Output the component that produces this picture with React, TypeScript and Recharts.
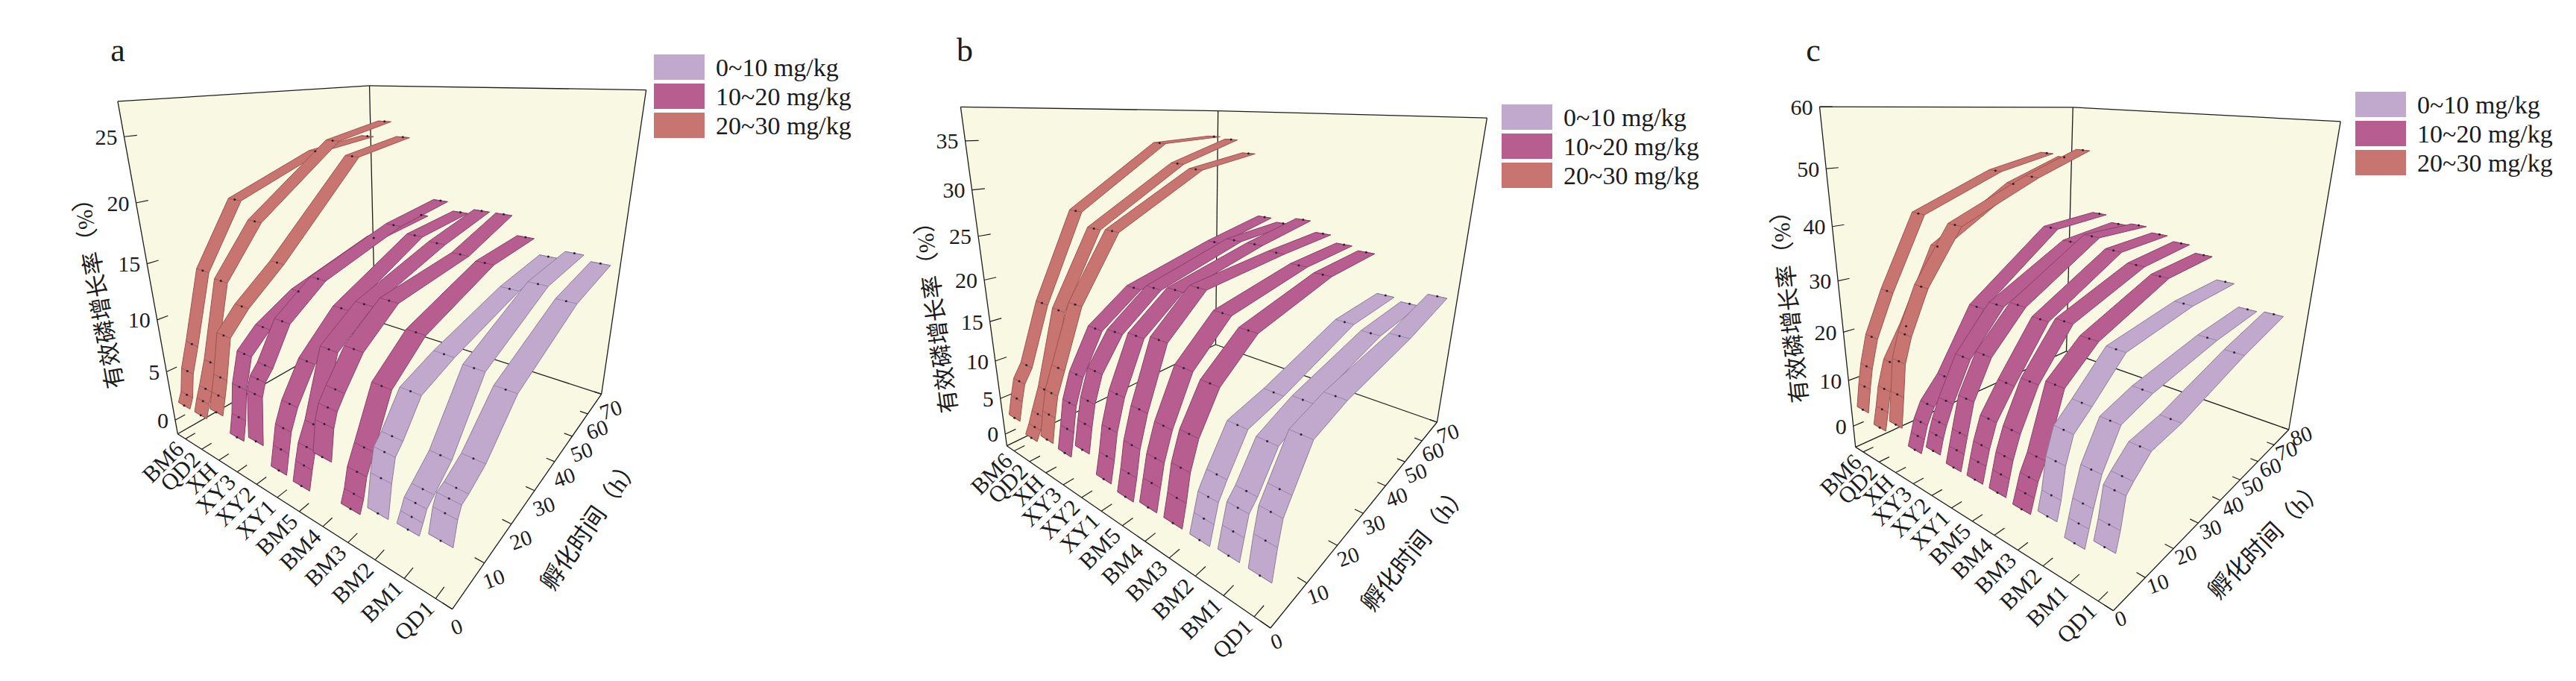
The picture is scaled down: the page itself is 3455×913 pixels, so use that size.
import React from "react";
import * as R from "recharts";

const RC: any = R;
const { ComposedChart, XAxis, YAxis, Scatter, Polygon } = RC;

// incubation times (h)
const TIMES = [1, 2, 3, 5, 10, 20, 45, 65];

// soils along the depth axis, BM6 at the back
const SAMPLES = ["BM6", "QD2", "XH", "XY3", "XY2", "XY1", "BM5", "BM4", "BM3", "BM2", "BM1", "QD1"];

// 0 = 0~10, 1 = 10~20, 2 = 20~30 mg/kg
const SAMPLE_CLASS = [2, 2, 2, 1, 1, 1, 1, 1, 1, 0, 0, 0];
const CLASS_LABELS = ["0~10 mg/kg", "10~20 mg/kg", "20~30 mg/kg"];

// growth rate of available P (%), one row per soil, one column per time
const GROWTH_A = [
  [1.8, 2.7, 4.9, 7.2, 13.4, 18.8, 21.7, 22.3],
  [1.8, 3.0, 4.0, 6.2, 13.0, 17.2, 22.9, 24.0],
  [3.1, 4.5, 6.0, 9.5, 11.3, 13.9, 21.6, 22.5],
  [1.7, 3.4, 6.0, 8.6, 10.1, 11.8, 13.9, 14.4],
  [2.4, 6.5, 7.6, 8.4, 11.3, 13.5, 15.6, 16.3],
  [0.8, 2.5, 4.2, 5.9, 8.6, 11.5, 15.0, 15.4],
  [0.6, 2.2, 3.6, 5.1, 10.4, 12.5, 14.7, 15.9],
  [4.4, 6.9, 8.0, 9.0, 11.2, 13.4, 14.1, 15.9],
  [1.2, 2.2, 3.8, 5.3, 9.1, 11.5, 13.8, 14.0],
  [2.2, 4.8, 6.6, 7.3, 9.6, 10.5, 12.0, 12.5],
  [2.3, 3.0, 3.8, 4.3, 5.6, 10.2, 13.0, 13.3],
  [2.9, 4.7, 5.5, 5.7, 6.5, 9.4, 12.1, 12.8],
];
const GROWTH_B = [
  [2.7, 5.1, 7.2, 8.9, 16.1, 26.5, 34.0, 34.6],
  [1.3, 2.5, 4.0, 6.8, 16.0, 24.8, 31.5, 34.3],
  [2.5, 5.5, 8.0, 10.7, 17.5, 25.0, 31.0, 32.5],
  [2.2, 5.0, 8.0, 11.0, 15.5, 18.8, 21.7, 23.5],
  [4.1, 7.0, 9.5, 12.5, 16.0, 19.5, 22.5, 23.0],
  [2.0, 4.5, 7.5, 11.0, 16.5, 20.0, 22.5, 24.0],
  [1.5, 4.0, 7.0, 10.5, 17.0, 21.0, 22.0, 22.5],
  [2.0, 4.5, 7.0, 10.0, 15.0, 19.0, 21.0, 21.5],
  [2.0, 4.5, 7.5, 10.5, 14.5, 18.0, 20.5, 21.0],
  [2.0, 4.0, 6.0, 7.7, 11.4, 12.3, 15.4, 15.7],
  [2.3, 4.5, 6.6, 7.6, 11.1, 12.7, 14.9, 15.3],
  [2.3, 5.5, 8.0, 9.5, 13.2, 14.3, 15.5, 17.1],
];
const GROWTH_C = [
  [4.3, 9.0, 13.0, 18.6, 26.8, 40.6, 47.2, 50.0],
  [2.4, 6.0, 10.0, 15.0, 21.0, 35.0, 45.0, 49.5],
  [5.1, 11.0, 17.3, 22.0, 30.0, 40.0, 47.0, 51.5],
  [2.0, 4.5, 7.0, 10.0, 14.0, 25.4, 37.3, 38.1],
  [4.0, 6.8, 9.0, 12.5, 19.5, 27.1, 35.3, 36.6],
  [3.0, 6.0, 9.0, 14.8, 21.5, 28.3, 37.3, 37.1],
  [3.0, 6.0, 8.8, 13.0, 18.0, 27.0, 35.4, 36.0],
  [3.0, 6.0, 9.0, 13.0, 20.0, 28.0, 33.6, 35.0],
  [2.5, 5.0, 7.5, 10.4, 21.2, 26.4, 32.5, 33.5],
  [3.9, 7.2, 12.7, 17.2, 20.0, 26.1, 28.5, 29.0],
  [1.9, 4.9, 7.9, 12.8, 19.0, 20.9, 23.4, 24.5],
  [4.2, 7.5, 12.7, 14.1, 16.9, 17.8, 22.1, 24.8],
];

const TICKS_A = [0, 5, 10, 15, 20, 25];
const TICKS_B = [0, 5, 10, 15, 20, 25, 30, 35];
const TICKS_C = [0, 10, 20, 30, 40, 50, 60];
const TIME_TICKS_AB = [0, 10, 20, 30, 40, 50, 60, 70];
const TIME_TICKS_C = [0, 10, 20, 30, 40, 50, 60, 70, 80];

const W = 3455;
const H = 913;
const FILL = ["#C0A9CC", "#B75D90", "#C87571"];
const EDGE = ["#8F7C9E", "#8C3F6C", "#9E5351"];
const WALL = "#F9F8E3";
const INK = "#1c1c1c";
const SERIF = "'Liberation Serif', 'Times New Roman', serif";
const CJK = "'Liberation Serif', 'Noto Sans CJK SC', sans-serif";
const HALF_WIDTH = 0.36 / SAMPLES.length;

type P2 = [number, number];

// screen corners of each box: floor L(back soil, t0) F(front soil, t0) R(front soil, tmax) B(back soil, tmax), tops above L, B, R
const BOXES = [
  {
    L: [238.3, 581.7], F: [606.7, 816.7], R: [806.7, 528.3], B: [503, 430],
    TL: [156, 135], TB: [498, 113], TR: [865, 124],
    vmin: -1.5, vmax: 27.5, tmax: 70, timeLabelShift: [-1, 26],
    yTitle: [131, 386], tTitle: [792, 702], legend: [877, 73], label: [158, 82],
  },
  {
    L: [1350.4, 597.7], F: [1704, 842], R: [1927.4, 566], B: [1630.5, 462],
    TL: [1291.5, 151], TB: [1630.5, 137.4], TR: [1996, 166.7],
    vmin: -1.7, vmax: 38.3, tmax: 70, timeLabelShift: [1, 20],
    yTitle: [1255, 418], tTitle: [1898, 734], legend: [2014, 140], label: [1294, 82],
  },
  {
    L: [2488.7, 599.4], F: [2834.4, 818.7], R: [3069.8, 576], B: [2771.5, 470.8],
    TL: [2446.6, 153.2], TB: [2773.7, 129.8], TR: [3142.4, 172.5],
    vmin: -4.8, vmax: 60, tmax: 80, timeLabelShift: [3, 13],
    yTitle: [2400, 404], tTitle: [3040, 723], legend: [3159, 123], label: [2432, 82],
  },
];

function solve3(m: number[][], r: number[]) {
  const det = (a: number[][]) =>
    a[0][0] * (a[1][1] * a[2][2] - a[1][2] * a[2][1]) -
    a[0][1] * (a[1][0] * a[2][2] - a[1][2] * a[2][0]) +
    a[0][2] * (a[1][0] * a[2][1] - a[1][1] * a[2][0]);
  const d = det(m);
  return [0, 1, 2].map((c) => det(m.map((row, i) => row.map((v, j) => (j === c ? r[i] : v)))) / d);
}

// perspective projection of (soil, time, value), all in 0..1, to the page
function makeProjector(b: any) {
  const [x0, y0] = b.L, [x1, y1] = b.F, [x2, y2] = b.R, [x3, y3] = b.B;
  const dx1 = x1 - x2, dx2 = x3 - x2, dx3 = x0 - x1 + x2 - x3;
  const dy1 = y1 - y2, dy2 = y3 - y2, dy3 = y0 - y1 + y2 - y3;
  const den = dx1 * dy2 - dx2 * dy1;
  const g = (dx3 * dy2 - dx2 * dy3) / den;
  const h = (dx1 * dy3 - dx3 * dy1) / den;
  const a = x1 - x0 + g * x1, bb = x3 - x0 + h * x3, c = x0;
  const d = y1 - y0 + g * y1, e = y3 - y0 + h * y3, f = y0;
  const floor = (s: number, t: number) => [a * s + bb * t + c, d * s + e * t + f, g * s + h * t + 1];

  const M = [[0, 0, 0], [0, 0, 0], [0, 0, 0]];
  const rhs = [0, 0, 0];
  const tops: [number, number, P2][] = [[0, 0, b.TL], [0, 1, b.TB], [1, 1, b.TR]];
  for (const [s, t, [X, Y]] of tops) {
    const [hx, hy, hw] = floor(s, t);
    const rows: [number[], number][] = [[[1, 0, -X], X * hw - hx], [[0, 1, -Y], Y * hw - hy]];
    for (const [row, val] of rows) {
      for (let i = 0; i < 3; i++) {
        for (let j = 0; j < 3; j++) M[i][j] += row[i] * row[j];
        rhs[i] += row[i] * val;
      }
    }
  }
  const [A, B, C] = solve3(M, rhs);
  return (s: number, t: number, z: number): P2 => {
    const [hx, hy, hw] = floor(s, t);
    const w = hw + C * z;
    return [(hx + A * z) / w, (hy + B * z) / w];
  };
}

const PANELS = [
  { name: "a", growth: GROWTH_A, ticks: TICKS_A, timeTicks: TIME_TICKS_AB, box: BOXES[0] },
  { name: "b", growth: GROWTH_B, ticks: TICKS_B, timeTicks: TIME_TICKS_AB, box: BOXES[1] },
  { name: "c", growth: GROWTH_C, ticks: TICKS_C, timeTicks: TIME_TICKS_C, box: BOXES[2] },
].map((p) => ({ ...p, project: makeProjector(p.box) }));

const usePlot = RC.usePlotArea;
const useXD = RC.useXAxisDomain;
const useYD = RC.useYAxisDomain;

// data units -> pixels
function useMapper() {
  const plot = usePlot ? usePlot() : null;
  const xd = useXD ? useXD() : null;
  const yd = useYD ? useYD() : null;
  if (plot && xd && yd && xd.length === 2 && yd.length === 2) {
    return (p: P2): P2 => [
      plot.x + ((p[0] - xd[0]) / (xd[1] - xd[0])) * plot.width,
      plot.y + ((p[1] - yd[0]) / (yd[1] - yd[0])) * plot.height,
    ];
  }
  return (p: P2): P2 => p;
}

function Layer({ draw }: { draw: (m: (p: P2) => P2) => React.ReactNode }) {
  const m = useMapper();
  return <g>{draw(m)}</g>;
}

const asPoints = (arr: P2[]) => arr.map(([x, y]) => ({ x, y }));
const seg = (a: P2, b: P2, key: string, w = 1.3, color = INK) => (
  <line key={key} x1={a[0]} y1={a[1]} x2={b[0]} y2={b[1]} stroke={color} strokeWidth={w} />
);
const unit = (a: P2, b: P2): P2 => {
  const dx = b[0] - a[0], dy = b[1] - a[1];
  const l = Math.hypot(dx, dy);
  return [dx / l, dy / l];
};

function backFrame(pn: any) {
  return (m: (p: P2) => P2) => {
    const q = (s: number, t: number, z: number) => m(pn.project(s, t, z));
    return (
      <>
        <Polygon points={asPoints([q(0, 0, 0), q(0, 1, 0), q(0, 1, 1), q(0, 0, 1)])} fill={WALL} stroke="none" />
        <Polygon points={asPoints([q(0, 1, 0), q(1, 1, 0), q(1, 1, 1), q(0, 1, 1)])} fill={WALL} stroke="none" />
        <Polygon points={asPoints([q(0, 0, 0), q(1, 0, 0), q(1, 1, 0), q(0, 1, 0)])} fill={WALL} stroke="none" />
        {seg(q(0, 0, 1), q(0, 1, 1), "e1")}
        {seg(q(0, 1, 1), q(1, 1, 1), "e2")}
        {seg(q(0, 1, 0), q(0, 1, 1), "e3")}
        {seg(q(1, 1, 0), q(1, 1, 1), "e4")}
        {seg(q(0, 0, 0), q(0, 1, 0), "e5")}
        {seg(q(0, 1, 0), q(1, 1, 0), "e6")}
      </>
    );
  };
}

function zOf(pn: any, v: number) {
  return (v - pn.box.vmin) / (pn.box.vmax - pn.box.vmin);
}

function ribbon(pn: any, i: number) {
  const vals: number[] = pn.growth[i];
  const cls = SAMPLE_CLASS[i];
  const sc = (i + 0.5) / SAMPLES.length;
  return (m: (p: P2) => P2) => {
    const at = (s: number, k: number) => m(pn.project(s, TIMES[k] / pn.box.tmax, zOf(pn, vals[k])));
    const A = TIMES.map((_, k) => at(sc - HALF_WIDTH, k));
    const B = TIMES.map((_, k) => at(sc + HALF_WIDTH, k));
    return (
      <>
        <Polygon
          points={asPoints([...A, ...B.slice().reverse()])}
          fill={FILL[cls]}
          stroke={EDGE[cls]}
          strokeWidth={1}
          strokeLinejoin="round"
        />
        {A.map((a, k) => seg(a, B[k], `x${k}`, 0.8, EDGE[cls]))}
      </>
    );
  };
}

function ribbonDots(pn: any, i: number) {
  const sc = (i + 0.5) / SAMPLES.length;
  return TIMES.map((t, k) => {
    const [x, y] = pn.project(sc, t / pn.box.tmax, zOf(pn, pn.growth[i][k]));
    return { x, y };
  });
}

const dotShape = (p: any) => <circle cx={p.cx} cy={p.cy} r={1.5} fill="#2a2030" />;

function frontFrame(pn: any) {
  return (m: (p: P2) => P2) => {
    const b = pn.box;
    const q = (s: number, t: number, z: number) => m(pn.project(s, t, z));
    const sDir = unit(q(0, 0, 0), q(1, 0, 0));
    const tDir = unit(q(1, 0, 0), q(1, 1, 0));
    const zDir = unit(q(0, 0, 0), q(0, 0, 1));
    const zAngle = (Math.atan2(zDir[1], zDir[0]) * 180) / Math.PI;
    const tAngle = (Math.atan2(tDir[1], tDir[0]) * 180) / Math.PI;
    const yT = m(b.yTitle), tT = m(b.tTitle), lg = m(b.legend), lb = m(b.label);
    return (
      <>
        {seg(q(0, 0, 0), q(0, 0, 1), "ax-v")}
        {seg(q(0, 0, 0), q(1, 0, 0), "ax-s")}
        {seg(q(1, 0, 0), q(1, 1, 0), "ax-t")}
        {pn.ticks.map((v: number) => {
          const z = zOf(pn, v);
          const p = q(0, 0, z);
          return (
            <g key={`v${v}`}>
              {seg(p, q(0, 0.035, z), "t", 1.2)}
              <text x={p[0] - 9} y={p[1]} textAnchor="end" dominantBaseline="central" fontSize={30} fontFamily={SERIF} fill={INK}>
                {v}
              </text>
            </g>
          );
        })}
        {SAMPLES.map((name, i) => {
          const s = (i + 0.5) / SAMPLES.length;
          const p = q(s, 0, 0);
          const lx = p[0] - sDir[1] * 11 - sDir[0] * 2;
          const ly = p[1] + sDir[0] * 11 - sDir[1] * 2;
          return (
            <g key={`s${name}`}>
              {seg(p, q(s, 0.035, 0), "t", 1.2)}
              <text x={lx} y={ly} textAnchor="end" dominantBaseline="central" fontSize={31} fontFamily={SERIF} fill={INK}
                transform={`rotate(-45 ${lx} ${ly})`}>
                {name}
              </text>
            </g>
          );
        })}
        {pn.timeTicks.map((tv: number) => {
          const t = tv / b.tmax;
          const p = q(1, t, 0);
          const lx = p[0] + b.timeLabelShift[0];
          const ly = p[1] + b.timeLabelShift[1];
          return (
            <g key={`t${tv}`}>
              {seg(p, q(0.975, t, 0), "t", 1.2)}
              <text x={lx} y={ly} textAnchor="start" dominantBaseline="central" fontSize={29} fontFamily={SERIF} fill={INK}
                transform={`rotate(-20 ${lx} ${ly})`}>
                {tv}
              </text>
            </g>
          );
        })}
        <text x={yT[0]} y={yT[1]} textAnchor="middle" dominantBaseline="central" fontSize={31} fontFamily={CJK} fill={INK}
          transform={`rotate(${zAngle} ${yT[0]} ${yT[1]})`}>
          有效磷增长率（%）
        </text>
        <text x={tT[0]} y={tT[1]} textAnchor="middle" dominantBaseline="central" fontSize={32} fontFamily={CJK} fill={INK}
          transform={`rotate(${tAngle} ${tT[0]} ${tT[1]})`}>
          孵化时间（h）
        </text>
        {CLASS_LABELS.map((label, k) => (
          <g key={label}>
            <rect x={lg[0]} y={lg[1] + k * 39} width={68} height={34} fill={FILL[k]} />
            <text x={lg[0] + 83} y={lg[1] + k * 39 + 17} dominantBaseline="central" fontSize={34} fontFamily={SERIF} fill={INK}>
              {label}
            </text>
          </g>
        ))}
        <text x={lb[0]} y={lb[1]} textAnchor="middle" fontSize={44} fontFamily={SERIF} fill={INK}>
          {pn.name}
        </text>
      </>
    );
  };
}

export default function App() {
  const items: React.ReactNode[] = [];
  PANELS.forEach((pn) => {
    items.push(<Layer key={`${pn.name}-back`} draw={backFrame(pn)} />);
    SAMPLES.forEach((name, i) => {
      items.push(<Layer key={`${pn.name}-r${i}`} draw={ribbon(pn, i)} />);
      items.push(
        <Scatter
          key={`${pn.name}-d${i}`}
          name={`${pn.name}-${name}`}
          data={ribbonDots(pn, i)}
          isAnimationActive={false}
          shape={dotShape}
        />
      );
    });
    items.push(<Layer key={`${pn.name}-front`} draw={frontFrame(pn)} />);
  });

  return (
    <div style={{ position: "absolute", left: 0, top: 0, width: W, height: H, background: "#fff" }}>
      <ComposedChart width={W} height={H} margin={{ top: 0, right: 0, bottom: 0, left: 0 }}>
        <XAxis type="number" dataKey="x" domain={[0, W]} hide allowDataOverflow />
        <YAxis type="number" dataKey="y" domain={[0, H]} reversed hide allowDataOverflow />
        {items}
      </ComposedChart>
    </div>
  );
}
